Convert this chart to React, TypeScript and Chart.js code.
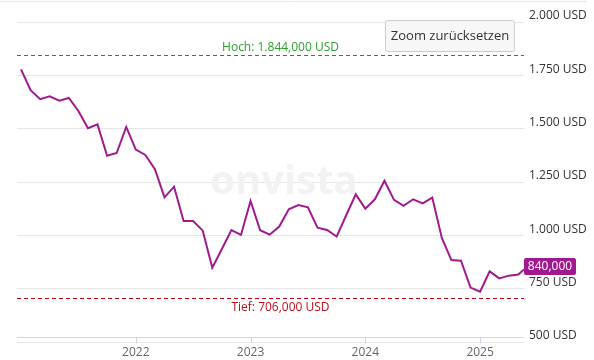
import React, { useEffect, useRef } from "react";
import { Chart, registerables } from "chart.js";

Chart.register(...registerables);

const FONT = "'Open Sans', sans-serif";

// Monthly closing prices (USD), Jan 2021 .. May 2025, plus latest quote
const dates: string[] = [
  "2021-01-01", "2021-02-01", "2021-03-01", "2021-04-01", "2021-05-01", "2021-06-01",
  "2021-07-01", "2021-08-01", "2021-09-01", "2021-10-01", "2021-11-01", "2021-12-01",
  "2022-01-01", "2022-02-01", "2022-03-01", "2022-04-01", "2022-05-01", "2022-06-01",
  "2022-07-01", "2022-08-01", "2022-09-01", "2022-10-01", "2022-11-01", "2022-12-01",
  "2023-01-01", "2023-02-01", "2023-03-01", "2023-04-01", "2023-05-01", "2023-06-01",
  "2023-07-01", "2023-08-01", "2023-09-01", "2023-10-01", "2023-11-01", "2023-12-01",
  "2024-01-01", "2024-02-01", "2024-03-01", "2024-04-01", "2024-05-01", "2024-06-01",
  "2024-07-01", "2024-08-01", "2024-09-01", "2024-10-01", "2024-11-01", "2024-12-01",
  "2025-01-01", "2025-02-01", "2025-03-01", "2025-04-01", "2025-05-01", "2025-05-19",
];

const prices: number[] = [
  1778, 1680, 1638, 1652, 1631, 1644, 1583, 1502, 1520, 1373, 1386, 1508,
  1402, 1377, 1310, 1178, 1228, 1067, 1067, 1022, 848, 936, 1025, 1002,
  1161, 1024, 1003, 1041, 1122, 1142, 1131, 1036, 1025, 994, 1094, 1192,
  1125, 1169, 1256, 1166, 1138, 1169, 1150, 1177, 988, 884, 881, 755,
  736, 831, 798, 811, 816, 840,
];

const yearTicks: number[] = [2022, 2023, 2024, 2025];
const yTicks: number[] = [500, 750, 1000, 1250, 1500, 1750, 2000];

const highValue = 1844;
const lowValue = 706;
const lastValue = 840;
const highLabel = "Hoch: 1.844,000 USD";
const lowLabel = "Tief: 706,000 USD";
const lastLabel = "840,000";
const buttonLabel = "Zoom zurücksetzen";
const watermark = "onvista";

const BASE_YEAR = 2021;
const toX = (d: string) => {
  const [y, m, day] = d.split("-").map(Number);
  return (y - BASE_YEAR) * 12 + (m - 1) + (day - 1) / 30.5;
};

const fmtThousands = (v: number) =>
  String(v).replace(/\B(?=(\d{3})+(?!\d))/g, ".");

const LINE = "#a01a8e";

const overlayPlugin = {
  id: "overlay",
  beforeDatasetsDraw(chart: any) {
    const { ctx, chartArea } = chart;
    ctx.save();
    ctx.font = `bold 40px ${FONT}`;
    ctx.fillStyle = "#f2f2f2";
    ctx.textAlign = "center";
    ctx.textBaseline = "middle";
    ctx.fillText(watermark, chartArea.left + 267, 183);
    ctx.restore();
  },
  afterDatasetsDraw(chart: any) {
    const { ctx, chartArea, scales } = chart;
    const xs = scales.x;
    const ys = scales.y;
    ctx.save();

    // top border line
    ctx.strokeStyle = "#e6e6e6";
    ctx.lineWidth = 1;
    ctx.beginPath();
    ctx.moveTo(0, 1.5);
    ctx.lineTo(587, 1.5);
    ctx.stroke();

    // x axis line + tick marks
    const axisY = Math.round(chartArea.bottom - 5) + 0.5;
    ctx.strokeStyle = "#ccd6eb";
    ctx.beginPath();
    ctx.moveTo(chartArea.left, axisY);
    ctx.lineTo(chartArea.right, axisY);
    ctx.stroke();
    yearTicks.forEach((yr) => {
      const px = Math.round(xs.getPixelForValue((yr - BASE_YEAR) * 12)) + 0.5;
      ctx.beginPath();
      ctx.moveTo(px, axisY);
      ctx.lineTo(px, axisY + 6);
      ctx.stroke();
    });

    const midX = (chartArea.left + chartArea.right) / 2 + 10;

    // high line
    const hy = Math.round(ys.getPixelForValue(highValue)) + 0.5;
    ctx.setLineDash([4, 3]);
    ctx.strokeStyle = "#0a9e0a";
    ctx.beginPath();
    ctx.moveTo(chartArea.left, hy);
    ctx.lineTo(chartArea.right, hy);
    ctx.stroke();
    // low line
    const ly = Math.round(ys.getPixelForValue(lowValue)) + 0.5;
    ctx.strokeStyle = "#c00010";
    ctx.beginPath();
    ctx.moveTo(chartArea.left, ly);
    ctx.lineTo(chartArea.right, ly);
    ctx.stroke();
    ctx.setLineDash([]);

    ctx.font = `12px ${FONT}`;
    ctx.textAlign = "center";
    ctx.textBaseline = "middle";
    ctx.fillStyle = "#2e9e2e";
    ctx.fillText(highLabel, midX, hy - 8);
    ctx.fillStyle = "#b5101b";
    ctx.fillText(lowLabel, midX, ly + 9);

    // last value box
    const vy = ys.getPixelForValue(lastValue);
    const bx = chartArea.right;
    const bw = 52;
    const bh = 17;
    const by = vy - 11.5;
    ctx.fillStyle = LINE;
    ctx.beginPath();
    (ctx as any).roundRect(bx, by, bw, bh, 2);
    ctx.fill();
    ctx.fillStyle = "#ffffff";
    ctx.font = `12px ${FONT}`;
    ctx.textAlign = "center";
    ctx.fillText(lastLabel, bx + bw / 2, by + bh / 2 + 0.5);

    // reset zoom button
    const btnX = 385.5, btnY = 20.5, btnW = 129, btnH = 31;
    ctx.fillStyle = "#f7f7f7";
    ctx.strokeStyle = "#cccccc";
    ctx.beginPath();
    (ctx as any).roundRect(btnX, btnY, btnW, btnH, 2);
    ctx.fill();
    ctx.stroke();
    ctx.fillStyle = "#333333";
    ctx.font = `13px ${FONT}`;
    ctx.fillText(buttonLabel, btnX + btnW / 2, btnY + btnH / 2 + 0.5);

    ctx.restore();
  },
};

export default function App() {
  const ref = useRef<HTMLCanvasElement | null>(null);

  useEffect(() => {
    document.body.style.margin = "0";
    if (!ref.current) return;
    const points = dates.map((d, i) => ({ x: toX(d), y: prices[i] }));
    const chart = new Chart(ref.current, {
      type: "line",
      data: {
        datasets: [
          {
            data: points,
            borderColor: LINE,
            borderWidth: 2,
            pointRadius: 0,
            tension: 0,
            fill: false,
          },
        ],
      },
      options: {
        animation: false,
        responsive: false,
        maintainAspectRatio: false,
        layout: { padding: { left: 17, top: 22, right: 0, bottom: 0 } },
        plugins: { legend: { display: false }, tooltip: { enabled: false } },
        scales: {
          x: {
            type: "linear",
            min: -0.42,
            max: toX(dates[dates.length - 1]),
            grid: { display: false, drawTicks: false },
            border: { display: false },
            afterBuildTicks: (s: any) => {
              s.ticks = yearTicks.map((yr) => ({ value: (yr - BASE_YEAR) * 12 }));
            },
            afterFit: (s: any) => {
              s.height = 18;
            },
            ticks: {
              autoSkip: false,
              maxRotation: 0,
              padding: 3,
              color: "#666666",
              font: { family: FONT, size: 12 },
              callback: (v: any) => String(BASE_YEAR + Number(v) / 12),
            },
          },
          y: {
            position: "right",
            min: 500,
            max: 2000,
            afterBuildTicks: (s: any) => {
              s.ticks = yTicks.map((v) => ({ value: v }));
            },
            afterFit: (s: any) => {
              s.width = 70;
            },
            grid: { color: "#e6e6e6", drawTicks: false },
            border: { display: false },
            ticks: {
              padding: 5,
              crossAlign: "near",
              labelOffset: -6,
              color: "#333333",
              font: { family: FONT, size: 12 },
              callback: (v: any) => `${fmtThousands(Number(v))} USD`,
            },
          },
        },
      },
      plugins: [overlayPlugin],
    } as any);
    return () => chart.destroy();
  }, []);

  return (
    <div style={{ width: 594, height: 360 }}>
      <canvas ref={ref} width={594} height={360} style={{ width: 594, height: 360, display: "block" }} />
    </div>
  );
}
